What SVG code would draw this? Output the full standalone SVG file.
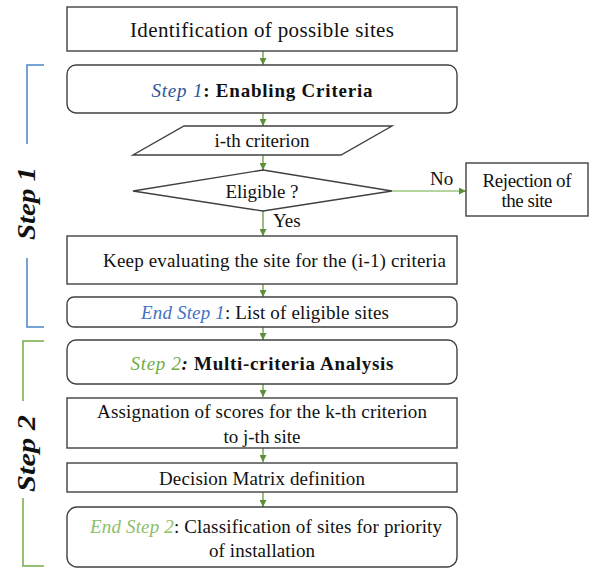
<svg xmlns="http://www.w3.org/2000/svg" width="589" height="568" viewBox="0 0 589 568">
<style>
.box{fill:#fff;stroke:#404040;stroke-width:1.4}
.t{font-family:"Liberation Serif","Times New Roman",serif;font-size:19px;fill:#111;text-anchor:middle}
.b{font-weight:bold}
.i{font-style:italic}
.con{stroke:#5b8f3a;stroke-width:1.2;fill:none;marker-end:url(#ah)}
.lbl{font-family:"Liberation Serif","Times New Roman",serif;font-size:26px;font-weight:bold;font-style:italic;fill:#111;text-anchor:middle}
</style>
<defs>
<marker id="ah" viewBox="0 0 10 10" refX="10" refY="5" markerWidth="7" markerHeight="7" markerUnits="userSpaceOnUse" orient="auto">
<path d="M0,0 L10,5 L0,10 z" fill="#5b8f3a"/>
</marker>
</defs>
<rect width="589" height="568" fill="#fff"/>
<g id="brackets" fill="none" stroke-width="1.5">
<path d="M44,65 H27 V144 M27,258 V327 H44" stroke="#4a86c6"/>
<path d="M44,341 H23 V401 M23,498 V566 H44" stroke="#70ad47"/>
</g>
<g id="step1-label"><text class="lbl" transform="translate(35,203.5) rotate(-90)" textLength="73" lengthAdjust="spacingAndGlyphs">Step 1</text></g>
<g id="step2-label"><text class="lbl" transform="translate(35,453.5) rotate(-90)" textLength="77" lengthAdjust="spacingAndGlyphs">Step 2</text></g>
<g id="connectors">
<line class="con" x1="263" y1="51" x2="263" y2="65"/>
<line class="con" x1="263" y1="113" x2="263" y2="126"/>
<line class="con" x1="263" y1="155" x2="263" y2="170"/>
<line class="con" x1="263" y1="211" x2="263" y2="236"/>
<line class="con" x1="392" y1="191" x2="466" y2="191" style="stroke:#9cc77f;stroke-width:1.5"/>
<line class="con" x1="263" y1="284" x2="263" y2="297"/>
<line class="con" x1="263" y1="327" x2="263" y2="340"/>
<line class="con" x1="263" y1="384" x2="263" y2="397"/>
<line class="con" x1="263" y1="448" x2="263" y2="462"/>
<line class="con" x1="263" y1="492" x2="263" y2="507"/>
<text class="t" x="273" y="227" style="text-anchor:start">Yes</text>
<text class="t" x="430" y="185" style="text-anchor:start">No</text>
</g>
<g id="n1"><rect class="box" x="67" y="7" width="390" height="44"/>
<text class="t" x="262" y="37" style="font-size:21px" textLength="264" lengthAdjust="spacing">Identification of possible sites</text></g>
<g id="n2"><rect class="box" x="67" y="65" width="390" height="48" rx="9"/>
<text class="t" x="262" y="97" textLength="221" lengthAdjust="spacing"><tspan class="i" fill="#2f5597">Step 1</tspan><tspan class="b">: Enabling Criteria</tspan></text></g>
<g id="n3"><polygon class="box" points="184,126 392,126 341,155 133,155"/>
<text class="t" x="262" y="147" textLength="95" lengthAdjust="spacing">i-th criterion</text></g>
<g id="n4"><polygon class="box" points="263,170 392,191 263,211 133,191"/>
<text class="t" x="262" y="198" textLength="73" lengthAdjust="spacing">Eligible ?</text></g>
<g id="n5"><rect class="box" x="466" y="163" width="122" height="53"/>
<text class="t" x="527" y="187" textLength="89" lengthAdjust="spacing">Rejection of</text>
<text class="t" x="527" y="207" textLength="51" lengthAdjust="spacing">the site</text></g>
<g id="n6"><rect class="box" x="67" y="236" width="390" height="48"/>
<text class="t" x="274.5" y="267" textLength="343" lengthAdjust="spacing">Keep evaluating the site for the (i-1) criteria</text></g>
<g id="n7"><rect class="box" x="67" y="297" width="390" height="30" rx="7"/>
<text class="t" x="265" y="319" textLength="248" lengthAdjust="spacing"><tspan class="i" fill="#4472c4">End Step 1</tspan>: List of eligible sites</text></g>
<g id="n8"><rect class="box" x="67" y="340" width="390" height="44" rx="9"/>
<text class="t" x="262" y="370" textLength="263" lengthAdjust="spacing"><tspan class="i" fill="#70ad47">Step 2</tspan><tspan class="b i">:</tspan><tspan class="b"> Multi-criteria Analysis</tspan></text></g>
<g id="n9"><rect class="box" x="67" y="398" width="390" height="50"/>
<text class="t" x="262" y="418" textLength="330" lengthAdjust="spacing">Assignation of scores for the k-th criterion</text>
<text class="t" x="262" y="443" textLength="77" lengthAdjust="spacing">to j-th site</text></g>
<g id="n10"><rect class="box" x="67" y="463" width="390" height="29"/>
<text class="t" x="262" y="485" textLength="206" lengthAdjust="spacing">Decision Matrix definition</text></g>
<g id="n11"><rect class="box" x="67" y="507" width="390" height="60" rx="10"/>
<text class="t" x="266" y="533" textLength="352" lengthAdjust="spacing"><tspan class="i" fill="#8cc06a">End Step 2</tspan>: Classification of sites for priority</text>
<text class="t" x="262" y="557" textLength="106" lengthAdjust="spacing">of installation</text></g>
</svg>
